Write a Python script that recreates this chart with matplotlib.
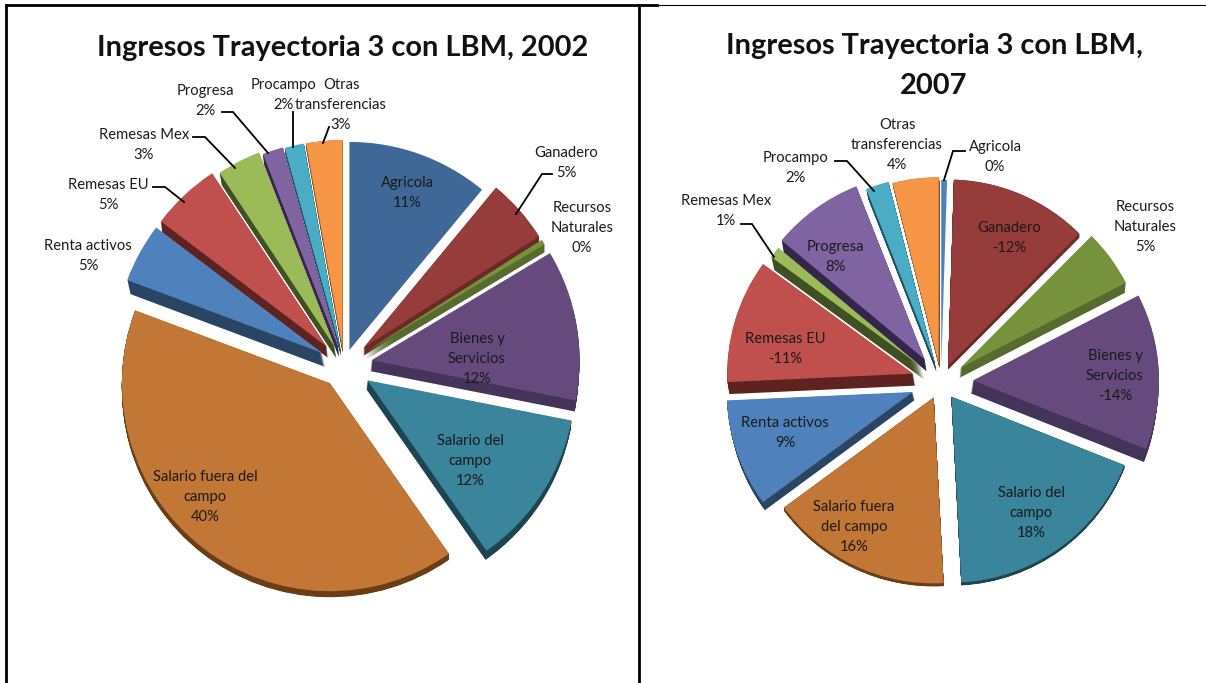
#!/usr/bin/env python
"""Two exploded pseudo-3D pies: Ingresos Trayectoria 3 con LBM, 2002 and 2007."""
import matplotlib
matplotlib.use("Agg")
import matplotlib.pyplot as plt

plt.rcParams["font.family"] = ["Lato", "DejaVu Sans"]

W, H = 1206, 683

# --- data (share of income, sign dropped for slice size) ---
values_2002 = [11, 5, 0.4, 11.7, 12.2, 40.4, 4.6, 5.4, 3.4, 1.6, 1.5, 2.8]
values_2007 = [0.5, 12, 5, 13.6, 18.2, 15.8, 9.4, 10.8, 1, 8, 2, 4]

labels_2002 = ["Agricola\n11%", "Ganadero\n5%", "Recursos\nNaturales\n0%",
               "Bienes y\nServicios\n12%", "Salario del\ncampo\n12%",
               "Salario fuera del\ncampo\n40%", "Renta activos\n5%",
               "Remesas EU\n5%", "Remesas Mex\n3%", "Progresa\n2%",
               "Procampo\n2%", "Otras\ntransferencias\n3%"]
labels_2007 = ["Agricola\n0%", "Ganadero\n-12%", "Recursos\nNaturales\n5%",
               "Bienes y\nServicios\n-14%", "Salario del\ncampo\n18%",
               "Salario fuera\ndel campo\n16%", "Renta activos\n9%",
               "Remesas EU\n-11%", "Remesas Mex\n1%", "Progresa\n8%",
               "Procampo\n2%", "Otras\ntransferencias\n4%"]

# --- styling and layout, in pixels of the picture ---
top_2002 = ["#3f6797", "#963c3a", "#76923c", "#664a7e", "#3a849c", "#c27736",
            "#4f81bd", "#c0504d", "#9bbb59", "#8064a2", "#4bacc6", "#f79646"]
top_2007 = ["#4f81bd"] + top_2002[1:]
wall = ["#2a4464", "#6b2a28", "#566b2d", "#44345a", "#1d4550", "#6b3d14",
        "#2a4464", "#5e2220", "#414f24", "#33264a", "#1f5060", "#8a5020"]

explode_2002 = [16, 26, 26, 28, 28, 23, 25, 25, 21, 18, 17, 17]
explode_2007 = [16, 18, 24, 32, 18, 17, 30, 29, 25, 28, 21, 19]

wall_2002 = [(0, 0), (0, 8), (0, 8), (-1, 11), (-1, 9), (0, 6),
             (3, 14), (1, 11), (2, 12), (1, 10), (1, 8), (0, 4)]
wall_2007 = [(0, 0), (0, 4), (-1, 10), (-2, 13), (0, 3), (0, 3),
             (2, 8), (2, 12), (3, 13), (2, 12), (2, 10), (1, 5)]

pos_2002 = [(407, 193), (566, 163), (582, 228), (477, 359), (470, 461),
            (205, 497), (88, 256), (108, 195), (144, 145), (205, 101),
            (283, 95), (341, 105)]
pos_2007 = [(995, 157), (1009, 238), (1145, 227), (1115, 376), (1031, 513),
            (854, 527), (785, 433), (785, 349), (726, 211), (835, 257),
            (796, 168), (897, 145)]

leaders = [
    [(222, 112), (233, 112), (268, 153)],
    [(193, 137), (205, 137), (235, 168)],
    [(153, 187), (165, 187), (184, 202)],
    [(293, 112), (293, 147)],
    [(329, 127), (323, 143)],
    [(552, 174), (542, 174), (516, 214)],
    [(965, 151), (953, 151), (944, 180)],
    [(835, 161), (847, 161), (874, 191)],
    [(741, 224), (752, 224), (774, 257)],
]


def draw_pie(ax, values, center, radius, explode, tops, walls):
    n = 16
    for k in range(n, 0, -1):
        wedges, _ = ax.pie(values, explode=explode, colors=wall, center=center,
                           radius=radius, startangle=-90, counterclock=True,
                           wedgeprops={"linewidth": 0})
        for w, (dx, dy) in zip(wedges, walls):
            w.set_center((w.center[0] + dx * k / n, w.center[1] + dy * k / n))
            w.set_visible(dx != 0 or dy != 0)
    ax.pie(values, explode=explode, colors=tops, center=center, radius=radius,
           startangle=-90, counterclock=True, wedgeprops={"linewidth": 0})


fig = plt.figure(figsize=(W / 100, H / 100), dpi=100)
ax = fig.add_axes([0, 0, 1, 1])

draw_pie(ax, values_2002, (344, 365), 208, explode_2002, top_2002, wall_2002)
draw_pie(ax, values_2007, (941, 382), 186, explode_2007, top_2007, wall_2007)

ax.set_aspect("auto")
ax.set_xlim(0, W)
ax.set_ylim(H, 0)  # pixel coordinates, y grows downward
ax.axis("off")

for pos, labs in [(pos_2002, labels_2002), (pos_2007, labels_2007)]:
    for (x, y), lab in zip(pos, labs):
        ax.text(x, y, lab, ha="center", va="center", fontsize=10.6,
                color="#1a1a1a", linespacing=1.55, zorder=5)

for pts in leaders:
    ax.plot(*zip(*pts), color="black", lw=1.3, zorder=4, solid_joinstyle="miter")

ax.text(343, 48, "Ingresos Trayectoria 3 con LBM, 2002", ha="center", va="center",
        fontsize=20.9, fontweight="bold", color="#111111")
ax.text(934, 66, "Ingresos Trayectoria 3 con LBM,\n2007", ha="center", va="center",
        fontsize=20.9, fontweight="bold", color="#111111", linespacing=1.62)

# table borders around the two pictures
ax.plot([6, 6], [H, 5], color="black", lw=2, clip_on=False, zorder=6)
ax.plot([6, 657], [5, 5], color="black", lw=2, zorder=6)
ax.plot([657, W], [5, 5], color="black", lw=0.8, zorder=6)
ax.plot([639, 639], [5, H], color="black", lw=2, zorder=6)

fig.savefig("out.png", dpi=100)
